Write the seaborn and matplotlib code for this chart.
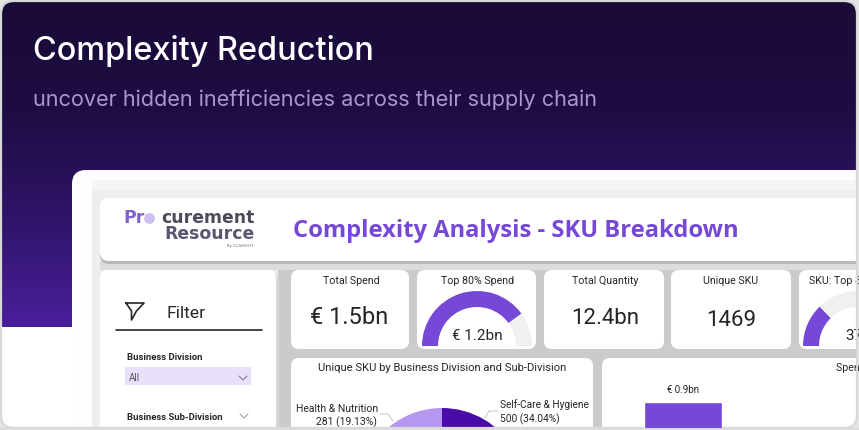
import numpy as np
import pandas as pd
import matplotlib
matplotlib.use("Agg")
import matplotlib.pyplot as plt
from matplotlib.patches import FancyBboxPatch, Rectangle
from matplotlib.colors import LinearSegmentedColormap
import seaborn as sns

sns.set_theme(style="white")
plt.rcParams['font.family'] = ['Roboto', 'DejaVu Sans']

W, H = 859, 430
PURPLE = "#7648d8"
INK = "#262626"

heading = "Complexity Reduction"
subheading = "uncover hidden inefficiencies across their supply chain"
report_title = "Complexity Analysis - SKU Breakdown"

kpi_titles = ["Total Spend", "Top 80% Spend", "Total Quantity", "Unique SKU", "SKU: Top 80% Spend"]
kpi_values = ["€ 1.5bn", "€ 1.2bn", "12.4bn", "1469", "374"]

gauge_spend = [1.2, 1.5]      # top 80 % spend, total spend (bn)
gauge_sku = [374, 1469]       # top SKU, unique SKU

donut_labels = ["Self-Care & Hygiene", "Other divisions", "Health & Nutrition"]
donut_values = [500, 688, 281]
donut_colors = ["#4a0ca8", "#7648d8", "#b596f0"]

bar_categories = ["Self-Care & Hygiene"]
bar_values = [0.9]
bar_labels = ["€ 0.9bn"]

fig = plt.figure(figsize=(W / 100, H / 100), dpi=100, facecolor="#e4e4e6")
ax = fig.add_axes([0, 0, 1, 1])
ax.set_axis_off()


def Y(py):
    return H - py


# outer dark banner with vertical gradient
cmap = LinearSegmentedColormap.from_list("banner", ["#1a0b38", "#1e0d42", "#2f1468", "#4a1f9c"])
grad = np.linspace(0, 1, 256)[:, None]
ax.imshow(grad, cmap=cmap, extent=[1, 858, Y(327), Y(1)], origin="upper", aspect="auto", zorder=1)
ax.add_patch(Rectangle((1, Y(429)), 857, 102, fc="white", ec="none", zorder=1))


def panel(x0, y0, x1, y1, fc="white", r=8, z=3, shadow=None):
    if shadow:
        ax.add_patch(FancyBboxPatch((x0, Y(y1) - 3), x1 - x0 + 3, y1 - y0,
                                    boxstyle=f"round,pad=0,rounding_size={r}",
                                    fc=shadow, ec="none", zorder=z - 0.5))
    ax.add_patch(FancyBboxPatch((x0, Y(y1)), x1 - x0, y1 - y0,
                                boxstyle=f"round,pad=0,rounding_size={r}",
                                fc=fc, ec="none", zorder=z))


# dashboard card
panel(72, 170, 900, 470, fc="#fdfdfe", r=14, z=2)
panel(92, 180, 900, 470, fc="#f4f5f7", r=8, z=2.1)
ax.add_patch(Rectangle((92, Y(470)), 810, 280, fc="#eeeeef", ec="none", zorder=2.2))
ax.add_patch(Rectangle((278, Y(470)), 620, 209, fc="#cbcbcd", ec="none", zorder=2.3))
ax.add_patch(Rectangle((100, Y(270)), 800, 9, fc="#dcdcde", ec="none", zorder=2.35))

panel(100, 198, 900, 261, r=9, shadow="#b9b9bb")
panel(100, 270, 276, 470, shadow="#d6d6d8")
kpi_boxes = [(291, 409), (417, 536), (544, 664), (671, 791), (799, 900)]
for x0, x1 in kpi_boxes:
    panel(x0, 270, x1, 349)
panel(291, 358, 593, 470)
panel(602, 358, 900, 470)

# banner text
ax.text(33, Y(51), heading, fontsize=23.4, fontweight=500, color="white", family="Inter",
        va="center", ha="left", zorder=6)
ax.text(33, Y(100), subheading, fontsize=15.6, color="#a798c9", family="Inter", va="center", ha="left", zorder=6)

# logo
ax.text(123, Y(218), "Pr", fontsize=12.4, fontweight="bold", color="#7f62c4",
        family="DejaVu Sans", va="center", zorder=6)
ax.scatter([149], [Y(218)], s=60, color="#cdbdf0", zorder=6, linewidths=0)
ax.text(255, Y(218), "curement", fontsize=12.4, fontweight="bold", color="#4d4a5c",
        family="DejaVu Sans", va="center", ha="right", zorder=6)
ax.text(255, Y(234), "Resource", fontsize=12.4, fontweight="bold", color="#5c5670",
        family="DejaVu Sans", va="center", ha="right", zorder=6)
ax.text(254, Y(246), "By CLARIGHT", fontsize=3.2, color="#77757f", va="center", ha="right", zorder=6)

ax.text(293, Y(231), report_title, fontsize=17.1, fontweight="bold", color=PURPLE,
        family="Open Sans", va="center", ha="left", zorder=6)

# filter pane
ax.plot([126, 144, 136.5, 131.5, 131.5, 126], [Y(303), Y(303), Y(311), Y(320), Y(311), Y(303)],
        color=INK, lw=1.2, zorder=6)
ax.text(166, Y(313), "Filter", fontsize=12.6, color=INK, va="center", zorder=6)
ax.plot([116, 262], [Y(330), Y(330)], color=INK, lw=1.2, zorder=6)
ax.text(127, Y(357), "Business Division", fontsize=6.8, fontweight="bold", color=INK, va="center", zorder=6)
ax.add_patch(Rectangle((125, Y(385)), 126, 18, fc="#e8e0fc", ec="none", zorder=6))
ax.text(129, Y(378), "All", fontsize=7, color="#555555", va="center", zorder=7)
ax.plot([239, 243, 247], [Y(376), Y(380), Y(376)], color="#777777", lw=0.7, zorder=7)
ax.text(127, Y(417), "Business Sub-Division", fontsize=6.8, fontweight="bold", color=INK, va="center", zorder=6)
ax.plot([240, 244, 248], [Y(414), Y(418), Y(414)], color="#999999", lw=0.7, zorder=7)
ax.add_patch(Rectangle((125, Y(431)), 126, 3, fc="#f1f1f3", ec="none", zorder=6))

# KPI cards
kpi_title_x = [351, 478, 605, 731, 809]
kpi_title_ha = ["center", "center", "center", "center", "left"]
for t, tx, ha in zip(kpi_titles, kpi_title_x, kpi_title_ha):
    ax.text(tx, Y(281), t, fontsize=7.7, color=INK, ha=ha, va="center", zorder=6, clip_on=True)
ax.text(349, Y(318), kpi_values[0], fontsize=17, color=INK, ha="center", va="center", zorder=6)
ax.text(477, Y(336), kpi_values[1], fontsize=11, color=INK, ha="center", va="center", zorder=7)
ax.text(605, Y(318), kpi_values[2], fontsize=16, color=INK, ha="center", va="center", zorder=6)
ax.text(731, Y(320), kpi_values[3], fontsize=16, color=INK, ha="center", va="center", zorder=6)
ax.text(858, Y(336), kpi_values[4], fontsize=11, color=INK, ha="center", va="center", zorder=7, clip_on=True)


def gauge(cx, cy, r, w, pair):
    v, total = pair
    wedges, _ = ax.pie([v, total - v, total], center=(cx, Y(cy)), radius=r, startangle=180,
                       counterclock=False, colors=[PURPLE, "#f1f0f0", "none"],
                       wedgeprops=dict(width=w, linewidth=0), frame=True)
    for wd in wedges:
        wd.set_zorder(5)


gauge(477, 346, 55, 16, gauge_spend)
gauge(858, 346, 55, 16, gauge_sku)

# donut panel
ax.text(442, Y(368), "Unique SKU by Business Division and Sub-Division", fontsize=8.1,
        color=INK, ha="center", va="center", zorder=6)
wedges, _ = ax.pie(donut_values, center=(442, Y(491)), radius=83, startangle=90, counterclock=False,
                   colors=donut_colors, wedgeprops=dict(width=45, linewidth=0), frame=True)
for wd in wedges:
    wd.set_zorder(5)
ax.text(378, Y(409), donut_labels[2], fontsize=7.5, color=INK, ha="right", va="center", zorder=6)
ax.text(377, Y(422), f"{donut_values[2]} (19.13%)", fontsize=7.5, color=INK, ha="right", va="center", zorder=6)
ax.text(500, Y(405), donut_labels[0], fontsize=7.3, color=INK, ha="left", va="center", zorder=6)
ax.text(500, Y(419), f"{donut_values[0]} (34.04%)", fontsize=7.3, color=INK, ha="left", va="center", zorder=6)
ax.plot([380, 388, 393], [Y(414), Y(414), Y(421)], color="#bbbbbb", lw=0.6, zorder=6)
ax.plot([498, 489, 485], [Y(411), Y(411), Y(418)], color="#bbbbbb", lw=0.6, zorder=6)

ax.text(836, Y(368), "Spend by Business Division", fontsize=7.7, color=INK, ha="left",
        va="center", zorder=6, clip_on=True)

ax.set_xlim(0, W)
ax.set_ylim(0, H)
ax.set_aspect("auto")

# outer frame, clip everything to the rounded picture area
clip = FancyBboxPatch((1, Y(428)), 856, 427, boxstyle="round,pad=0,rounding_size=13",
                      fc="none", ec="#d8d8da", lw=1.6, zorder=20)
ax.add_patch(clip)
for art in ax.get_children():
    if art is not clip and art is not ax.patch:
        if art in ax.spines.values() or art in (ax.xaxis, ax.yaxis):
            continue
        art.set_clip_on(True)
        art.set_clip_path(clip)

# bar panel, drawn through seaborn on its own axes
bar_x0, bar_x1, bar_top = 644, 722, 402
bar_px_per_unit = 220
bar_h = bar_px_per_unit * bar_values[0]
bx = fig.add_axes([bar_x0 / W, (H - bar_top - bar_h) / H, (bar_x1 - bar_x0) / W, bar_h / H])
df = pd.DataFrame({"division": bar_categories, "spend": bar_values})
sns.barplot(data=df, x="division", y="spend", color=PURPLE, saturation=1, width=1.0, ax=bx)
bx.set_xlim(-0.5, 0.5)
bx.set_ylim(0, bar_values[0])
bx.set_axis_off()
bx.patch.set_alpha(0)
labs = bx.bar_label(bx.containers[0], labels=bar_labels, padding=5, fontsize=7, color=INK)
for l in labs:
    l.set_clip_on(False)
# keep the frame's lower edge visible over the bar
ax2 = fig.add_axes([0, 0, 1, 2.5 / H])
ax2.set_axis_off()
ax2.add_patch(Rectangle((0, 0), 1, 1, transform=ax2.transAxes, fc="#dcdcde", ec="none"))

fig.savefig("out.png", dpi=100, facecolor=fig.get_facecolor())
